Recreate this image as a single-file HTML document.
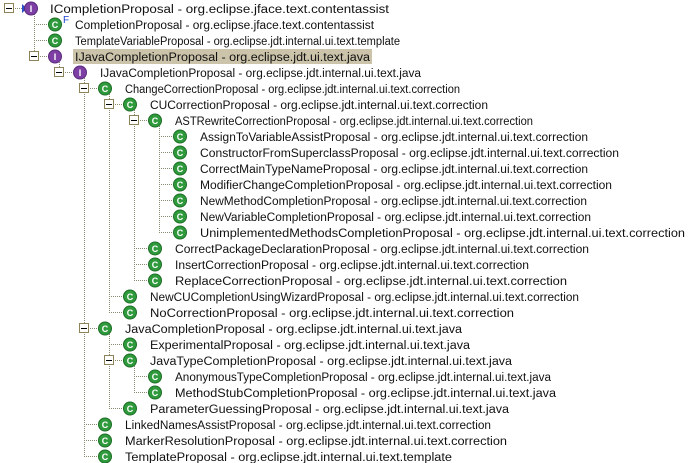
<!DOCTYPE html>
<html><head><meta charset="utf-8"><style>
html,body{margin:0;padding:0;background:#fff;width:693px;height:463px;overflow:hidden}
svg{display:block}
text{font-family:"Liberation Sans",sans-serif;font-size:11.5px;fill:#111}
.ic{font-family:"Liberation Sans",sans-serif;font-size:9px;font-weight:bold;fill:#fff;text-anchor:middle}
.d{stroke:#8a8a70;stroke-width:1;stroke-dasharray:1,1;fill:none}
.b{fill:#fff;stroke:#8c8458;stroke-width:1}
.ci{fill:#2f9a3c;stroke:#1d6e26;stroke-width:1}
.ii{fill:#7d3fa4;stroke:#5a2a7c;stroke-width:1}
</style></head><body>
<svg width="693" height="463" viewBox="0 0 693 463" shape-rendering="auto">
<g shape-rendering="crispEdges">
<path class="d" d="M34.5 14V56M59.5 62V72M84.5 78V456M109.5 94V312M134.5 110V280M159.5 126V232M109.5 334V408M134.5 366V392"/>
<path class="d" d="M34 24.5H48M34 40.5H48M34 56.5H48M59 72.5H73M84 88.5H98M109 104.5H123M134 120.5H148
M159 136.5H173M159 152.5H173M159 168.5H173M159 184.5H173M159 200.5H173M159 216.5H173M159 232.5H173
M134 248.5H148M134 264.5H148M134 280.5H148M109 296.5H123M109 312.5H123M84 328.5H98
M109 344.5H123M109 360.5H123M134 376.5H148M134 392.5H148M109 408.5H123
M84 424.5H98M84 440.5H98M84 456.5H98M9 8.5H22"/>
</g>
<g shape-rendering="crispEdges">
<rect class="b" x="4.5" y="3.5" width="9" height="9"/><path d="M6 8.5H12" stroke="#000"/>
<rect class="b" x="29.5" y="51.5" width="9" height="9"/><path d="M31 56.5H37" stroke="#000"/>
<rect class="b" x="54.5" y="67.5" width="9" height="9"/><path d="M56 72.5H62" stroke="#000"/>
<rect class="b" x="79.5" y="83.5" width="9" height="9"/><path d="M81 88.5H87" stroke="#000"/>
<rect class="b" x="104.5" y="99.5" width="9" height="9"/><path d="M106 104.5H112" stroke="#000"/>
<rect class="b" x="129.5" y="115.5" width="9" height="9"/><path d="M131 120.5H137" stroke="#000"/>
<rect class="b" x="79.5" y="323.5" width="9" height="9"/><path d="M81 328.5H87" stroke="#000"/>
<rect class="b" x="104.5" y="355.5" width="9" height="9"/><path d="M106 360.5H112" stroke="#000"/>
</g>
<rect x="73" y="49" width="299" height="15" fill="#cbc3aa"/>
<path d="M22 4L27 8.5L22 13Z" fill="#2a4fc8"/>
<circle class="ii" cx="31" cy="8.5" r="6.5"/><text class="ic" x="31" y="12">I</text>
<circle class="ci" cx="55" cy="24.5" r="6.5"/><text class="ic" x="55" y="28">C</text>
<text x="63" y="23" style="font-size:10px;fill:#1a3fd0">F</text>
<circle class="ci" cx="55" cy="40.5" r="6.5"/><text class="ic" x="55" y="44">C</text>
<circle class="ii" cx="55" cy="56.5" r="6.5"/><text class="ic" x="55" y="60">I</text>
<circle class="ii" cx="80" cy="72.5" r="6.5"/><text class="ic" x="80" y="76">I</text>
<circle class="ci" cx="105" cy="88.5" r="6.5"/><text class="ic" x="105" y="92">C</text>
<circle class="ci" cx="130" cy="104.5" r="6.5"/><text class="ic" x="130" y="108">C</text>
<circle class="ci" cx="155" cy="120.5" r="6.5"/><text class="ic" x="155" y="124">C</text>
<circle class="ci" cx="180" cy="136.5" r="6.5"/><text class="ic" x="180" y="140">C</text>
<circle class="ci" cx="180" cy="152.5" r="6.5"/><text class="ic" x="180" y="156">C</text>
<circle class="ci" cx="180" cy="168.5" r="6.5"/><text class="ic" x="180" y="172">C</text>
<circle class="ci" cx="180" cy="184.5" r="6.5"/><text class="ic" x="180" y="188">C</text>
<circle class="ci" cx="180" cy="200.5" r="6.5"/><text class="ic" x="180" y="204">C</text>
<circle class="ci" cx="180" cy="216.5" r="6.5"/><text class="ic" x="180" y="220">C</text>
<circle class="ci" cx="180" cy="232.5" r="6.5"/><text class="ic" x="180" y="236">C</text>
<circle class="ci" cx="155" cy="248.5" r="6.5"/><text class="ic" x="155" y="252">C</text>
<circle class="ci" cx="155" cy="264.5" r="6.5"/><text class="ic" x="155" y="268">C</text>
<circle class="ci" cx="155" cy="280.5" r="6.5"/><text class="ic" x="155" y="284">C</text>
<circle class="ci" cx="130" cy="296.5" r="6.5"/><text class="ic" x="130" y="300">C</text>
<circle class="ci" cx="130" cy="312.5" r="6.5"/><text class="ic" x="130" y="316">C</text>
<circle class="ci" cx="105" cy="328.5" r="6.5"/><text class="ic" x="105" y="332">C</text>
<circle class="ci" cx="130" cy="344.5" r="6.5"/><text class="ic" x="130" y="348">C</text>
<circle class="ci" cx="130" cy="360.5" r="6.5"/><text class="ic" x="130" y="364">C</text>
<circle class="ci" cx="155" cy="376.5" r="6.5"/><text class="ic" x="155" y="380">C</text>
<circle class="ci" cx="155" cy="392.5" r="6.5"/><text class="ic" x="155" y="396">C</text>
<circle class="ci" cx="130" cy="408.5" r="6.5"/><text class="ic" x="130" y="412">C</text>
<circle class="ci" cx="105" cy="424.5" r="6.5"/><text class="ic" x="105" y="428">C</text>
<circle class="ci" cx="105" cy="440.5" r="6.5"/><text class="ic" x="105" y="444">C</text>
<circle class="ci" cx="105" cy="456.5" r="6.5"/><text class="ic" x="105" y="460">C</text>
<g>
<text x="50" y="13" textLength="339" lengthAdjust="spacingAndGlyphs">ICompletionProposal - org.eclipse.jface.text.contentassist</text>
<text x="75" y="29" textLength="299" lengthAdjust="spacingAndGlyphs">CompletionProposal - org.eclipse.jface.text.contentassist</text>
<text x="75" y="45" textLength="325" lengthAdjust="spacingAndGlyphs">TemplateVariableProposal - org.eclipse.jdt.internal.ui.text.template</text>
<text x="75" y="61" textLength="295" lengthAdjust="spacingAndGlyphs">IJavaCompletionProposal - org.eclipse.jdt.ui.text.java</text>
<text x="100" y="77" textLength="321" lengthAdjust="spacingAndGlyphs">IJavaCompletionProposal - org.eclipse.jdt.internal.ui.text.java</text>
<text x="125" y="93" textLength="335" lengthAdjust="spacingAndGlyphs">ChangeCorrectionProposal - org.eclipse.jdt.internal.ui.text.correction</text>
<text x="150" y="109" textLength="338" lengthAdjust="spacingAndGlyphs">CUCorrectionProposal - org.eclipse.jdt.internal.ui.text.correction</text>
<text x="175" y="125" textLength="358" lengthAdjust="spacingAndGlyphs">ASTRewriteCorrectionProposal - org.eclipse.jdt.internal.ui.text.correction</text>
<text x="200" y="141" textLength="388" lengthAdjust="spacingAndGlyphs">AssignToVariableAssistProposal - org.eclipse.jdt.internal.ui.text.correction</text>
<text x="200" y="157" textLength="419" lengthAdjust="spacingAndGlyphs">ConstructorFromSuperclassProposal - org.eclipse.jdt.internal.ui.text.correction</text>
<text x="200" y="173" textLength="388" lengthAdjust="spacingAndGlyphs">CorrectMainTypeNameProposal - org.eclipse.jdt.internal.ui.text.correction</text>
<text x="200" y="189" textLength="412" lengthAdjust="spacingAndGlyphs">ModifierChangeCompletionProposal - org.eclipse.jdt.internal.ui.text.correction</text>
<text x="200" y="205" textLength="387" lengthAdjust="spacingAndGlyphs">NewMethodCompletionProposal - org.eclipse.jdt.internal.ui.text.correction</text>
<text x="200" y="221" textLength="391" lengthAdjust="spacingAndGlyphs">NewVariableCompletionProposal - org.eclipse.jdt.internal.ui.text.correction</text>
<text x="200" y="237" textLength="485" lengthAdjust="spacingAndGlyphs">UnimplementedMethodsCompletionProposal - org.eclipse.jdt.internal.ui.text.correction</text>
<text x="175" y="253" textLength="414" lengthAdjust="spacingAndGlyphs">CorrectPackageDeclarationProposal - org.eclipse.jdt.internal.ui.text.correction</text>
<text x="175" y="269" textLength="354" lengthAdjust="spacingAndGlyphs">InsertCorrectionProposal - org.eclipse.jdt.internal.ui.text.correction</text>
<text x="175" y="285" textLength="392" lengthAdjust="spacingAndGlyphs">ReplaceCorrectionProposal - org.eclipse.jdt.internal.ui.text.correction</text>
<text x="150" y="301" textLength="429" lengthAdjust="spacingAndGlyphs">NewCUCompletionUsingWizardProposal - org.eclipse.jdt.internal.ui.text.correction</text>
<text x="150" y="317" textLength="364" lengthAdjust="spacingAndGlyphs">NoCorrectionProposal - org.eclipse.jdt.internal.ui.text.correction</text>
<text x="125" y="333" textLength="337" lengthAdjust="spacingAndGlyphs">JavaCompletionProposal - org.eclipse.jdt.internal.ui.text.java</text>
<text x="150" y="349" textLength="320" lengthAdjust="spacingAndGlyphs">ExperimentalProposal - org.eclipse.jdt.internal.ui.text.java</text>
<text x="150" y="365" textLength="362" lengthAdjust="spacingAndGlyphs">JavaTypeCompletionProposal - org.eclipse.jdt.internal.ui.text.java</text>
<text x="175" y="381" textLength="376" lengthAdjust="spacingAndGlyphs">AnonymousTypeCompletionProposal - org.eclipse.jdt.internal.ui.text.java</text>
<text x="175" y="397" textLength="381" lengthAdjust="spacingAndGlyphs">MethodStubCompletionProposal - org.eclipse.jdt.internal.ui.text.java</text>
<text x="150" y="413" textLength="359" lengthAdjust="spacingAndGlyphs">ParameterGuessingProposal - org.eclipse.jdt.internal.ui.text.java</text>
<text x="125" y="429" textLength="366" lengthAdjust="spacingAndGlyphs">LinkedNamesAssistProposal - org.eclipse.jdt.internal.ui.text.correction</text>
<text x="125" y="445" textLength="382" lengthAdjust="spacingAndGlyphs">MarkerResolutionProposal - org.eclipse.jdt.internal.ui.text.correction</text>
<text x="125" y="461" textLength="327" lengthAdjust="spacingAndGlyphs">TemplateProposal - org.eclipse.jdt.internal.ui.text.template</text>
</g>
</svg>
</body></html>
